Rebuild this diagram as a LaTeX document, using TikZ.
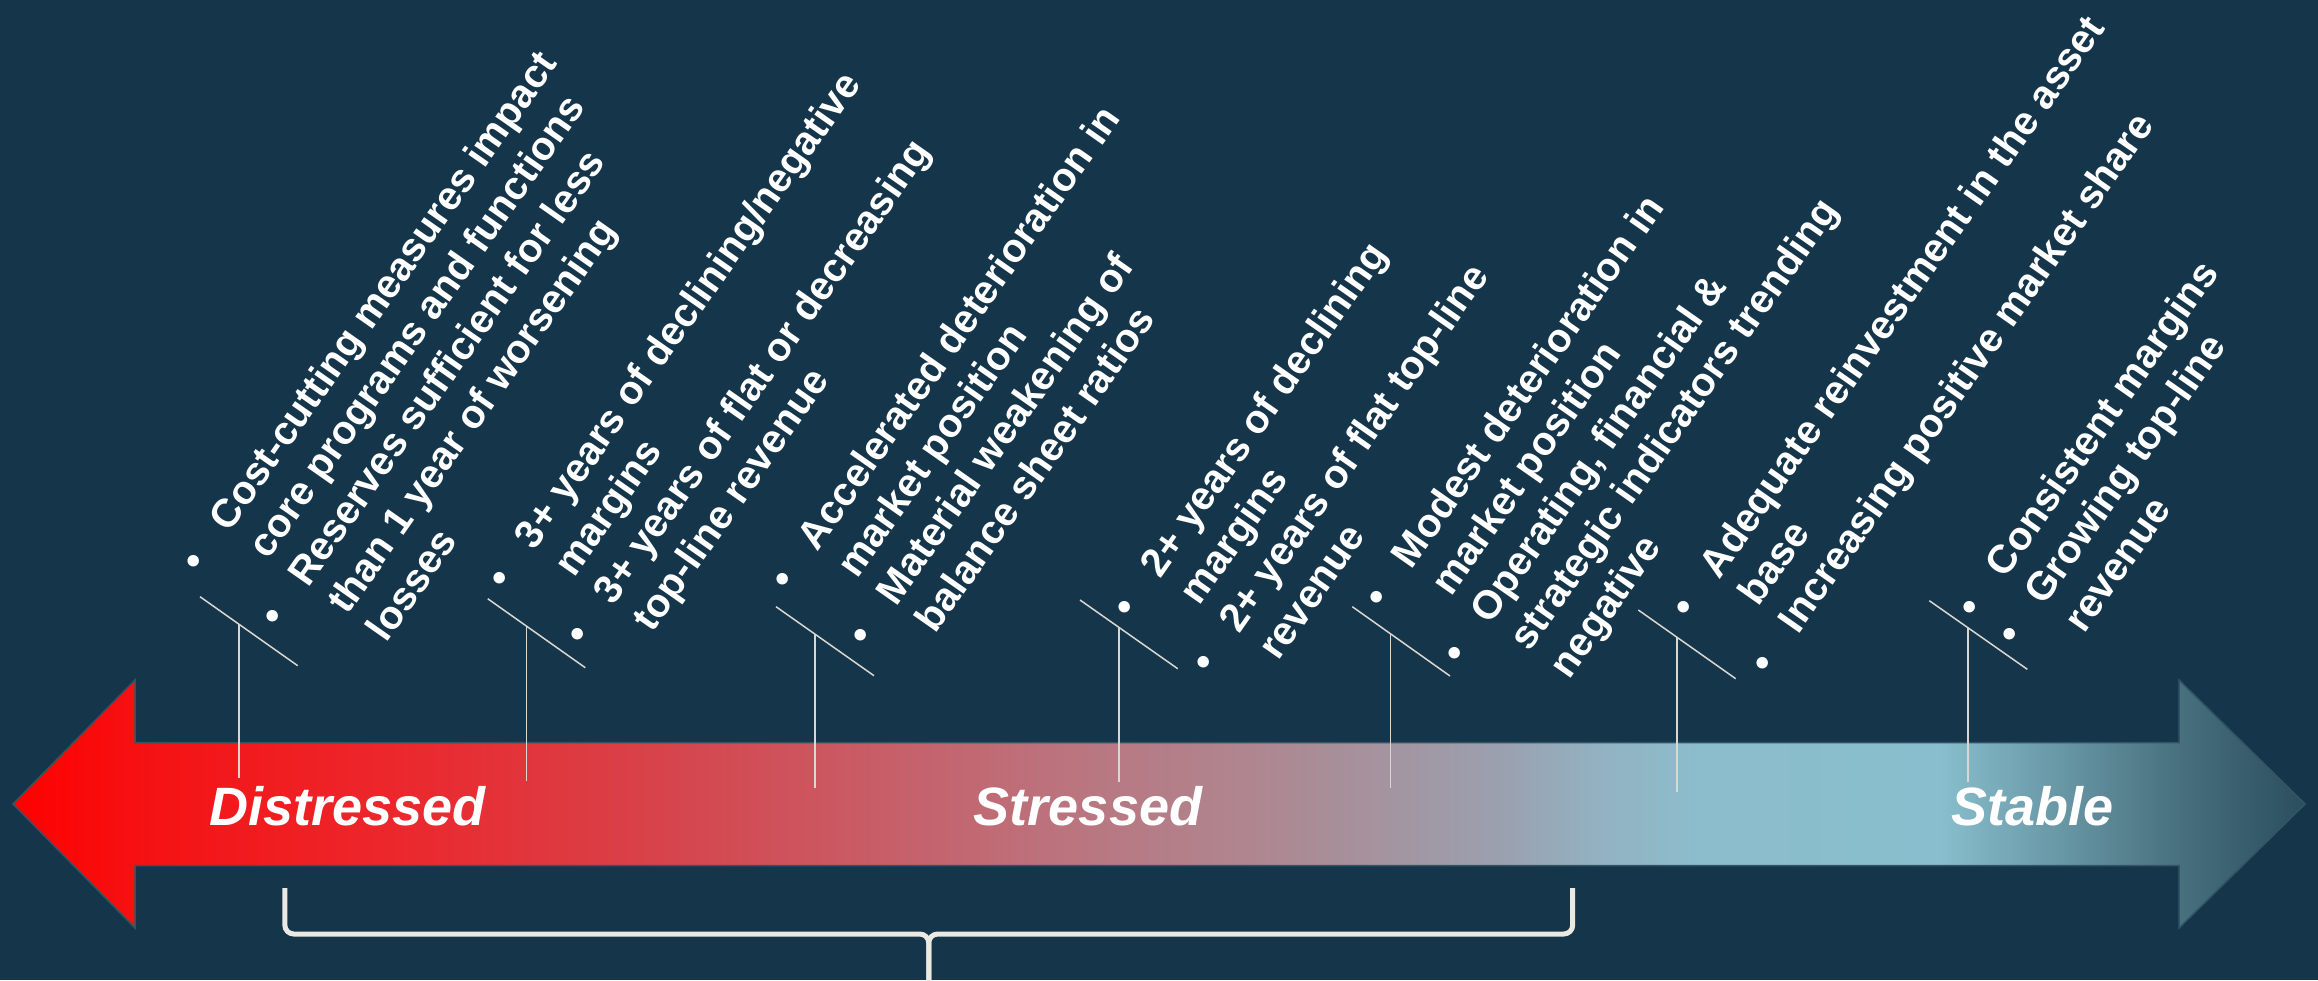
\documentclass[tikz,border=0pt]{standalone}
\usepackage{fontspec}
\setmainfont{Liberation Sans}
\usetikzlibrary{calc}
\definecolor{bg}{RGB}{21,54,74}
\definecolor{linec}{RGB}{218,214,208}
\definecolor{bracec}{RGB}{236,232,226}
\definecolor{arrowedge}{RGB}{52,84,100}
\definecolor{s0}{RGB}{255,0,0}
\definecolor{s1}{RGB}{245,18,20}
\definecolor{s2}{RGB}{235,40,45}
\definecolor{s3}{RGB}{216,66,74}
\definecolor{s4}{RGB}{198,96,106}
\definecolor{s5}{RGB}{184,120,130}
\definecolor{s6}{RGB}{176,133,143}
\definecolor{s7}{RGB}{168,142,152}
\definecolor{s8}{RGB}{155,160,175}
\definecolor{s9}{RGB}{146,178,194}
\definecolor{s10}{RGB}{140,189,204}
\definecolor{s11}{RGB}{136,190,205}
\definecolor{s12}{RGB}{72,112,126}
\definecolor{s13}{RGB}{42,78,94}
\pgfdeclarehorizontalshading{arrowgrad}{100bp}{%
 color(0bp)=(s0); color(25bp)=(s0); color(27.99bp)=(s1); color(33.44bp)=(s2);
 color(38.90bp)=(s3); color(44.35bp)=(s4); color(48.71bp)=(s5); color(51.77bp)=(s6);
 color(53.73bp)=(s7); color(57.44bp)=(s8); color(59.62bp)=(s9); color(61.80bp)=(s10);
 color(67.04bp)=(s11); color(72.25bp)=(s12); color(75bp)=(s13); color(100bp)=(s13)}
\newcommand{\bul}{\makebox[50pt][l]{•}}
\tikzset{
  blk/.style={rotate=55, anchor=base west, inner sep=0pt, text=white,
    font=\bfseries\fontsize{40}{48}\selectfont},
  stagelab/.style={anchor=base, inner sep=0pt, text=white,
    font=\bfseries\itshape\fontsize{54}{60}\selectfont},
  callout/.style={draw=linec, line width=1.5pt},
  bracestyle/.style={draw=bracec, line width=5pt, rounded corners=9pt},
}
\begin{document}
\begin{tikzpicture}[x=1pt,y=-1pt]
\useasboundingbox (0,0) rectangle (2318,980);
\fill[bg] (0,0) rectangle (2318,980);

% double arrow
\path[shading=arrowgrad, draw=arrowedge, line width=1.5pt]
  (13,804) -- (135,680) -- (135,742.5) -- (2179,742.5) -- (2179,680) -- (2305,804)
  -- (2179,928) -- (2179,865.5) -- (135,865.5) -- (135,928) -- cycle;

% callout lines
\foreach \i/\ax/\ay/\bx/\by/\tx/\ty in {
  1/200/596.7/297.7/665.7/239/778.3,
  2/487.7/598.7/585.3/667.7/526.7/780.7,
  3/776/606.7/874/675.7/815/788.3,
  4/1080/600/1177.7/668.7/1119/781.7,
  5/1352.3/606.7/1450/676/1390.7/788.3,
  6/1638.3/610/1735.7/678.7/1677/791.7,
  7/1929.3/600.7/2027.3/669.3/1968/782.3}{
  \coordinate (d\i a) at (\ax,\ay);
  \coordinate (d\i b) at (\bx,\by);
  \coordinate (t\i) at (\tx,\ty);
  \coordinate (m\i) at ($(d\i a)!0.4!(d\i b)$);
  \draw[callout] (d\i a) -- (d\i b);
  \draw[callout] (t\i) -- (t\i |- m\i);
}

% text blocks
\node[blk] (blk1) at (200.8,574.5) {\begin{tabular}[t]{@{}l@{}l@{}}
\bul & Cost-cutting measures impact\\
 & core programs and functions\\
\bul & Reserves sufficient for less\\
 & than 1 year of worsening\\
 & losses\end{tabular}};
\node[blk] (blk2) at (506.2,592.1) {\begin{tabular}[t]{@{}l@{}l@{}}
\bul & 3+ years of declining/negative\\
 & margins\\
\bul & 3+ years of flat or decreasing\\
 & top-line revenue\end{tabular}};
\node[blk] (blk3) at (789.2,593.1) {\begin{tabular}[t]{@{}l@{}l@{}}
\bul & Accelerated deterioration in\\
 & market position\\
\bul & Material weakening of\\
 & balance sheet ratios\end{tabular}};
\node[blk] (blk4) at (1131.8,620.5) {\begin{tabular}[t]{@{}l@{}l@{}}
\bul & 2+ years of declining\\
 & margins\\
\bul & 2+ years of flat top-line\\
 & revenue\end{tabular}};
\node[blk] (blk5) at (1383.2,611.1) {\begin{tabular}[t]{@{}l@{}l@{}}
\bul & Modest deterioration in\\
 & market position\\
\bul & Operating, financial \&\\
 & strategic indicators trending\\
 & negative\end{tabular}};
\node[blk] (blk6) at (1690.8,621.1) {\begin{tabular}[t]{@{}l@{}l@{}}
\bul & Adequate reinvestment in the asset\\
 & base\\
\bul & Increasing positive market share\end{tabular}};
\node[blk] (blk7) at (1976.8,620.5) {\begin{tabular}[t]{@{}l@{}l@{}}
\bul & Consistent margins\\
\bul & Growing top-line\\
 & revenue\end{tabular}};

% stage labels
\node[stagelab] (lab1) at (347.5,825) {Distressed};
\node[stagelab] (lab2) at (1088,825) {Stressed};
\node[stagelab] (lab3) at (2032.5,825) {Stable};

% brace
\coordinate (brL) at (284.8,888);
\coordinate (brR) at (1572.7,888);
\coordinate (brM) at (928.75,990);
\draw[bracestyle] (brL) -- (brL |- 0,934) -- (brM |- 0,934) -- (brM);
\draw[bracestyle] (brR) -- (brR |- 0,934) -- (brM |- 0,934) -- (brM);
\end{tikzpicture}
\end{document}
